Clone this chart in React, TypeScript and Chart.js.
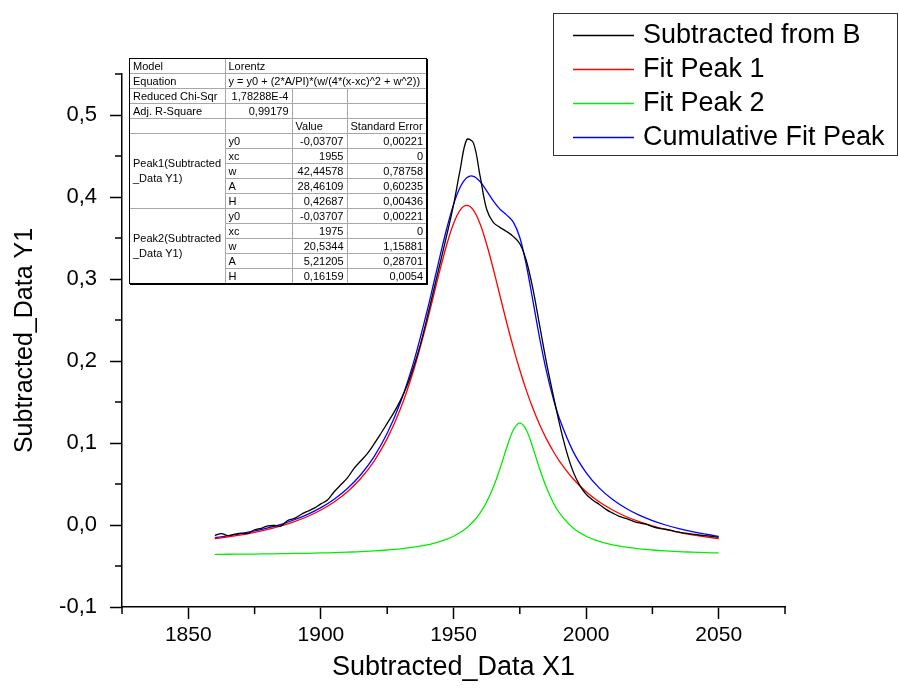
import React, { useEffect, useRef } from 'react';
import { Chart, registerables } from 'chart.js';

Chart.register(...registerables);

const FONT = '"Liberation Sans", Arial, Helvetica, sans-serif';

// ---- measured data (Subtracted from B) ----
const dataX = [
  1860, 1862.5, 1865, 1867.5, 1870, 1872.5, 1875, 1877.5, 1880, 1882.5,
  1885, 1887.5, 1890, 1892.5, 1895, 1897.5, 1900, 1902.5, 1905, 1907.5,
  1910, 1912.5, 1915, 1917.5, 1920, 1922.5, 1925, 1927.5, 1930, 1932.5,
  1935, 1937.5, 1940, 1942.5, 1945, 1947.5, 1950, 1952.5, 1955, 1957.5,
  1960, 1962.5, 1965, 1967.5, 1970, 1972.5, 1975, 1977.5, 1980, 1982.5,
  1985, 1987.5, 1990, 1992.5, 1995, 1997.5, 2000, 2002.5, 2005, 2007.5,
  2010, 2012.5, 2015, 2017.5, 2020, 2022.5, 2025, 2027.5, 2030, 2032.5,
  2035, 2037.5, 2040, 2042.5, 2045, 2047.5, 2050,
];
const dataY = [
  -0.0125, -0.0105, -0.013, -0.0112, -0.0098, -0.0102, -0.0058, -0.004, -0.0012, -0.0006,
  -0.001, 0.0055, 0.008, 0.0128, 0.0168, 0.0205, 0.0258, 0.0305, 0.0405, 0.049,
  0.0575, 0.069, 0.078, 0.087, 0.0985, 0.111, 0.124, 0.137, 0.152, 0.17,
  0.193, 0.22, 0.252, 0.286, 0.32, 0.354, 0.39, 0.433, 0.47, 0.466,
  0.426, 0.385, 0.369, 0.363, 0.358, 0.352, 0.343, 0.322, 0.287, 0.243,
  0.199, 0.16, 0.123, 0.091, 0.066, 0.049, 0.0375, 0.0305, 0.025, 0.019,
  0.0145, 0.0105, 0.008, 0.005, 0.0025, 0.001, -0.002, -0.004, -0.0052, -0.007,
  -0.0088, -0.01, -0.011, -0.0122, -0.013, -0.014, -0.015,
];

// ---- fitted curves ----
const fitX = [
  1860, 1865, 1870, 1875, 1880, 1885, 1890, 1895, 1900, 1905,
  1910, 1915, 1920, 1925, 1930, 1935, 1940, 1942.5, 1945, 1947.5,
  1950, 1952.5, 1955, 1957.5, 1960, 1962.5, 1965, 1967.5, 1970, 1972.5,
  1975, 1977.5, 1980, 1982.5, 1985, 1987.5, 1990, 1995, 2000, 2005,
  2010, 2015, 2020, 2025, 2030, 2035, 2040, 2045, 2050,
];
const peak1Y = [
  -0.0168, -0.0146, -0.012, -0.009, -0.0054, -0.0011, 0.0041, 0.0104, 0.0183, 0.0281,
  0.0406, 0.0567, 0.0777, 0.1053, 0.1417, 0.189, 0.2476, 0.2799, 0.3123, 0.3424,
  0.3674, 0.384, 0.3898, 0.384, 0.3674, 0.3424, 0.3123, 0.2799, 0.2476, 0.217,
  0.189, 0.1639, 0.1417, 0.1223, 0.1053, 0.0905, 0.0777, 0.0567, 0.0406, 0.0281,
  0.0183, 0.0104, 0.0041, -0.0011, -0.0054, -0.009, -0.012, -0.0146, -0.0168,
];
const peak2Y = [
  -0.0358, -0.0357, -0.0355, -0.0354, -0.0352, -0.035, -0.0347, -0.0345, -0.0341, -0.0337,
  -0.0331, -0.0325, -0.0316, -0.0305, -0.0291, -0.0271, -0.0243, -0.0224, -0.0201, -0.0173,
  -0.0137, -0.0092, -0.0034, 0.0043, 0.0145, 0.028, 0.0459, 0.0683, 0.0935, 0.1155,
  0.1245, 0.1155, 0.0935, 0.0683, 0.0459, 0.028, 0.0145, -0.0034, -0.0137, -0.0201,
  -0.0243, -0.0271, -0.0291, -0.0305, -0.0316, -0.0325, -0.0331, -0.0337, -0.0341,
];
const cumulativeY = [
  -0.0155, -0.0132, -0.0105, -0.0073, -0.0036, 0.0009, 0.0064, 0.013, 0.0212, 0.0315,
  0.0445, 0.0613, 0.0831, 0.1118, 0.1497, 0.199, 0.2604, 0.2945, 0.3292, 0.3622,
  0.3907, 0.4118, 0.4235, 0.4253, 0.4189, 0.4075, 0.3952, 0.3852, 0.3782, 0.3696,
  0.3506, 0.3164, 0.2723, 0.2276, 0.1882, 0.1556, 0.1292, 0.0904, 0.0639, 0.045,
  0.0311, 0.0204, 0.012, 0.0054, 0.0, -0.0044, -0.0081, -0.0112, -0.0138,
];

const seriesNames = ['Subtracted from B', 'Fit Peak 1', 'Fit Peak 2', 'Cumulative Fit Peak'];
const seriesColors = ['#000000', '#ff0000', '#00ee00', '#0000ff'];

// ---- axes ----
const xMin = 1825;
const xMax = 2075;
const xMajorTicks = [1850, 1900, 1950, 2000, 2050];
const xMinorTicks = [1825, 1875, 1925, 1975, 2025, 2075];
const yMin = -0.1;
const yMax = 0.55;
const yMajorTicks = [-0.1, 0, 0.1, 0.2, 0.3, 0.4, 0.5];
const yMinorTicks = [-0.05, 0.05, 0.15, 0.25, 0.35, 0.45, 0.55];
const xTitle = 'Subtracted_Data X1';
const yTitle = 'Subtracted_Data Y1';

// ---- fit report table ----
const reportModel = 'Lorentz';
const reportEquation = 'y = y0 + (2*A/PI)*(w/(4*(x-xc)^2 + w^2))';
const reportChiSqr = '1,78288E-4';
const reportAdjR2 = '0,99179';
const paramNames = ['y0', 'xc', 'w', 'A', 'H'];
const peak1Values = ['-0,03707', '1955', '42,44578', '28,46109', '0,42687'];
const peak1Errors = ['0,00221', '0', '0,78758', '0,60235', '0,00436'];
const peak2Values = ['-0,03707', '1975', '20,5344', '5,21205', '0,16159'];
const peak2Errors = ['0,00221', '0', '1,15881', '0,28701', '0,0054'];

const fmt = (v: number) => {
  if (Math.abs(v) < 1e-9) return '0,0';
  return v.toFixed(1).replace('.', ',');
};

const decorPlugin = {
  id: 'originDecor',
  afterDraw(chart: any) {
    const { ctx, chartArea } = chart;
    const xs = chart.scales.x;
    const ys = chart.scales.y;
    ctx.save();
    ctx.strokeStyle = '#000';
    ctx.lineWidth = 1.5;
    xMinorTicks.forEach((v) => {
      const px = xs.getPixelForValue(v);
      ctx.beginPath();
      ctx.moveTo(px, chartArea.bottom);
      ctx.lineTo(px, chartArea.bottom + 7);
      ctx.stroke();
    });
    yMinorTicks.forEach((v) => {
      const py = ys.getPixelForValue(v);
      ctx.beginPath();
      ctx.moveTo(chartArea.left, py);
      ctx.lineTo(chartArea.left - 7, py);
      ctx.stroke();
    });
    // legend
    ctx.lineWidth = 1;
    ctx.strokeStyle = '#333';
    ctx.fillStyle = '#fff';
    ctx.fillRect(553.5, 13.5, 344, 142);
    ctx.strokeRect(553.5, 13.5, 344, 142);
    ctx.font = `27px ${FONT}`;
    ctx.textBaseline = 'middle';
    ctx.textAlign = 'left';
    chart.data.datasets.forEach((ds: any, i: number) => {
      const y = 35 + i * 34;
      ctx.strokeStyle = ds.borderColor;
      ctx.lineWidth = 1.3;
      ctx.beginPath();
      ctx.moveTo(573, y + 0.5);
      ctx.lineTo(634, y + 0.5);
      ctx.stroke();
      ctx.fillStyle = '#000';
      ctx.fillText(ds.label, 643, y + 1);
    });
    ctx.restore();
  },
};

const cell: React.CSSProperties = {
  border: '1px solid #a8a8a8',
  padding: '0 3px',
  height: 14,
  lineHeight: '14px',
  whiteSpace: 'nowrap',
  overflow: 'hidden',
  textAlign: 'left',
};
const num: React.CSSProperties = { ...cell, textAlign: 'right' };

function PeakRows({ title, values, errors }: { title: string[]; values: string[]; errors: string[] }) {
  return (
    <>
      {paramNames.map((p, i) => (
        <tr key={p}>
          {i === 0 && (
            <td rowSpan={5} style={{ ...cell, verticalAlign: 'middle', lineHeight: '15px' }}>
              {title[0]}
              <br />
              {title[1]}
            </td>
          )}
          <td style={cell}>{p}</td>
          <td style={num}>{values[i]}</td>
          <td style={num}>{errors[i]}</td>
        </tr>
      ))}
    </>
  );
}

export default function App() {
  const ref = useRef<HTMLCanvasElement>(null);

  useEffect(() => {
    const mk = (xsArr: number[], ysArr: number[]) => xsArr.map((x, i) => ({ x, y: ysArr[i] }));
    const seriesData = [mk(dataX, dataY), mk(fitX, peak1Y), mk(fitX, peak2Y), mk(fitX, cumulativeY)];
    const chart = new Chart(ref.current as HTMLCanvasElement, {
      type: 'line',
      data: {
        datasets: seriesNames.map((name, i) => ({
          label: name,
          data: seriesData[i],
          borderColor: seriesColors[i],
          backgroundColor: seriesColors[i],
          borderWidth: 1.3,
          pointRadius: 0,
          tension: 0.35,
          fill: false,
        })),
      },
      options: {
        animation: false,
        responsive: false,
        maintainAspectRatio: false,
        devicePixelRatio: 1,
        layout: { padding: { top: 74, right: 114, left: 0, bottom: 0 } },
        plugins: { legend: { display: false }, tooltip: { enabled: false } },
        scales: {
          x: {
            type: 'linear',
            min: xMin,
            max: xMax,
            afterBuildTicks: (s: any) => {
              s.ticks = xMajorTicks.map((value) => ({ value }));
            },
            afterFit: (s: any) => {
              s.height = 84;
            },
            ticks: {
              color: '#000',
              padding: 4,
              font: { family: FONT, size: 21 },
              maxRotation: 0,
              autoSkip: false,
              callback: (v: any) => String(v),
            },
            grid: {
              drawOnChartArea: false,
              drawTicks: true,
              tickLength: 12,
              tickColor: '#000',
              tickWidth: 1.5,
            },
            border: { display: true, color: '#000', width: 1.5 },
            title: {
              display: true,
              text: xTitle,
              color: '#000',
              font: { family: FONT, size: 27, lineHeight: 1 },
              padding: { top: 0, bottom: 10 },
            },
          },
          y: {
            type: 'linear',
            min: yMin,
            max: yMax,
            afterBuildTicks: (s: any) => {
              s.ticks = yMajorTicks.map((value) => ({ value }));
            },
            afterFit: (s: any) => {
              s.width = 122;
            },
            ticks: {
              color: '#000',
              padding: 13,
              autoSkip: false,
              font: { family: FONT, size: 22 },
              callback: (v: any) => fmt(Number(v)),
            },
            grid: {
              drawOnChartArea: false,
              drawTicks: true,
              tickLength: 12,
              tickColor: '#000',
              tickWidth: 1.5,
            },
            border: { display: true, color: '#000', width: 1.5 },
            title: {
              display: true,
              text: yTitle,
              color: '#000',
              font: { family: FONT, size: 25, lineHeight: 1 },
              padding: { top: 13, bottom: 0 },
            },
          },
        },
      } as any,
      plugins: [decorPlugin],
    });
    return () => chart.destroy();
  }, []);

  return (
    <div style={{ position: 'fixed', left: 0, top: 0, width: 899, height: 691, background: '#fff', overflow: 'hidden' }}>
      <canvas ref={ref} width={899} height={691} style={{ position: 'absolute', left: 0, top: 0, width: 899, height: 691 }} />
      <div
        style={{
          position: 'absolute',
          left: 129,
          top: 58,
          border: '1px solid #000',
          boxShadow: '1px 1px 0 #000',
          background: '#fff',
        }}
      >
        <table
          style={{
            borderCollapse: 'collapse',
            tableLayout: 'fixed',
            width: 296,
            border: 'hidden',
            fontFamily: FONT,
            fontSize: 11,
            color: '#000',
          }}
        >
          <colgroup>
            <col style={{ width: 95 }} />
            <col style={{ width: 67 }} />
            <col style={{ width: 55 }} />
            <col style={{ width: 79 }} />
          </colgroup>
          <tbody>
            <tr>
              <td style={cell}>Model</td>
              <td style={cell} colSpan={3}>{reportModel}</td>
            </tr>
            <tr>
              <td style={cell}>Equation</td>
              <td style={cell} colSpan={3}>{reportEquation}</td>
            </tr>
            <tr>
              <td style={cell}>Reduced Chi-Sqr</td>
              <td style={num}>{reportChiSqr}</td>
              <td style={cell}></td>
              <td style={cell}></td>
            </tr>
            <tr>
              <td style={cell}>Adj. R-Square</td>
              <td style={num}>{reportAdjR2}</td>
              <td style={cell}></td>
              <td style={cell}></td>
            </tr>
            <tr>
              <td style={cell}></td>
              <td style={cell}></td>
              <td style={cell}>Value</td>
              <td style={cell}>Standard Error</td>
            </tr>
            <PeakRows title={['Peak1(Subtracted', '_Data Y1)']} values={peak1Values} errors={peak1Errors} />
            <PeakRows title={['Peak2(Subtracted', '_Data Y1)']} values={peak2Values} errors={peak2Errors} />
          </tbody>
        </table>
      </div>
    </div>
  );
}
